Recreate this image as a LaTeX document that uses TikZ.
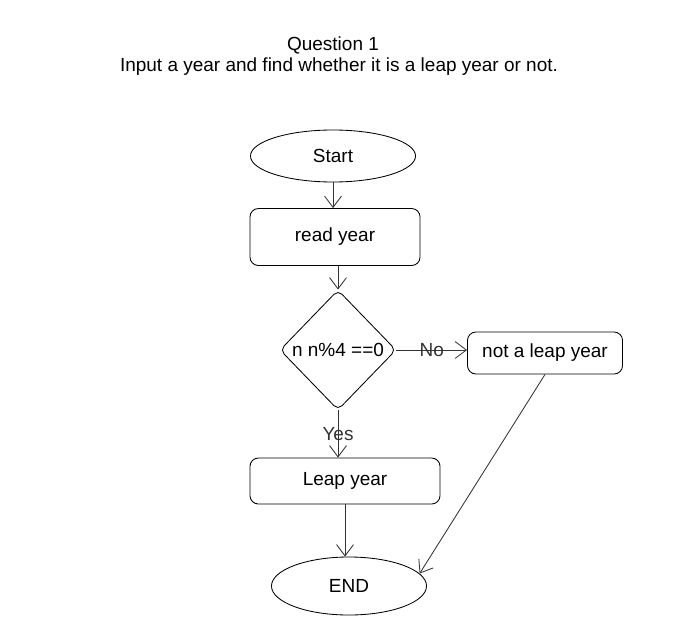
\documentclass[tikz,border=0pt]{standalone}
\usepackage{fontspec}
\setmainfont{Liberation Sans}
\usetikzlibrary{arrows.meta,shapes.geometric}
\tikzset{
	every node/.style={font=\fontsize{13.5}{16}\selectfont},
	terminal/.style={draw, ellipse, line width=0.6pt},
	process/.style={draw, rectangle, rounded corners=6pt, line width=0.6pt},
	decision/.style={draw, diamond, inner sep=0pt, rounded corners=4pt, line width=0.6pt,
			minimum width=2.9cm, minimum height=3cm},
	flow/.style={-{Straight Barb[length=8pt,width=12pt]}, line width=0.6pt, black!80}
}

\begin{document}
\begin{tikzpicture}[x=0.025cm, y=-0.025cm]
		\useasboundingbox (0,0) rectangle (681,637);
		% Title
		\node (title) at (333,45) {Question 1};
		\node (task) at (339,67) {Input a year and find whether it is a leap year or not.};
		% Boxes
		\node[terminal, minimum width=4.125cm, minimum height=1.3cm] (start) at (333,156) {Start};
		\node[process, minimum width=4.25cm, minimum height=1.425cm] (read) at (335,237) {read year};
		\node[decision] (cond) at (338,350) {};
		\node (condtext) at (338,350) {n n\%4 ==0};
		\node[process, minimum width=3.875cm, minimum height=1.05cm] (notleap) at (545,353) {not a leap year};
		\node[process, minimum width=4.75cm, minimum height=1.15cm] (leap) at (345,481) {Leap year};
		\node[terminal, minimum width=3.875cm, minimum height=1.45cm] (end) at (349,586) {END};
		% Arrows
		\draw[flow] (start.south) -- (start.south |- read.north);
		\draw[flow] (cond.north |- read.south) -- (cond.north);
		\draw[flow] (cond.east) -- (cond.east -| notleap.west) node[midway] {No};
		\draw[flow] (cond.south) -- (cond.south |- leap.north) node[midway] {Yes};
		\draw[flow] (leap.south) -- (leap.south |- end.north);
		\draw[flow] (notleap.south) -- (end.10);
	\end{tikzpicture}
\end{document}
